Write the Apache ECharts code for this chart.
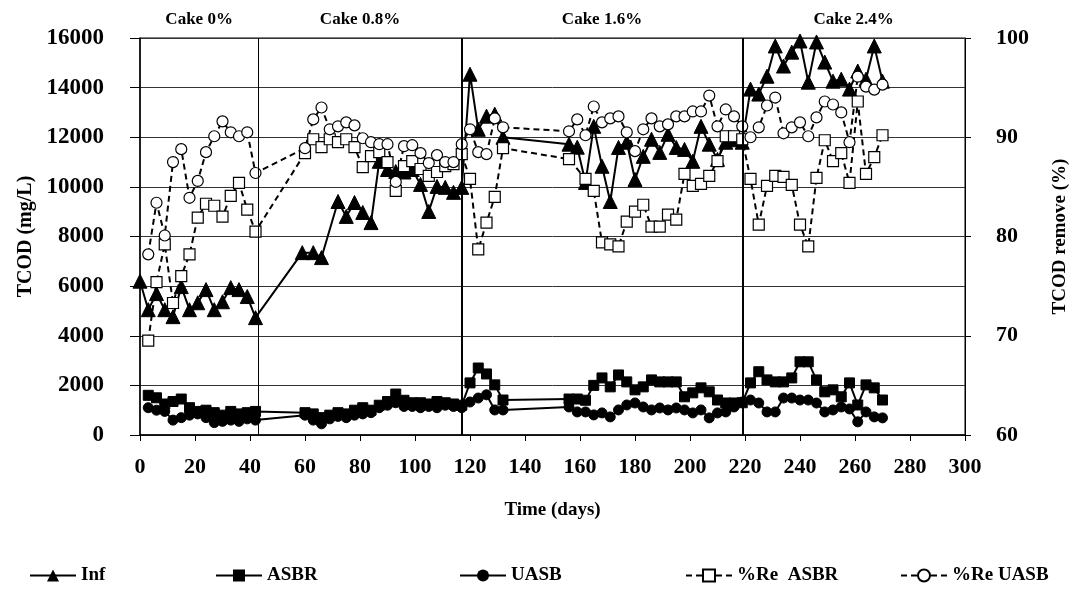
<!DOCTYPE html>
<html>
<head>
<meta charset="utf-8">
<script src="https://cdn.jsdelivr.net/npm/echarts@6/dist/echarts.min.js"></script>
<style>
html,body{margin:0;padding:0;background:#fff;}
#chart{width:1079px;height:613px;}
</style>
</head>
<body>
<div id="chart"></div>
<script>
// ---- data ----
const infDays = [0,3,6,9,12,15,18,21,24,27,30,33,36,39,42,
  59,63,66,72,75,78,81,84,87,90,93,96,99,102,105,108,111,114,117,
  120,123,126,129,132,156,159,162,165,168,171,174,177,180,183,186,189,192,195,198,201,204,207,210,213,216,219,
  222,225,228,231,234,237,240,243,246,249,252,255,258,261,264,267,270];
const infTCOD = [6200,5050,5700,5050,4770,5980,5050,5330,5860,5050,5370,5940,5860,5580,4730,
  7350,7350,7150,9410,8810,9370,8970,8560,11030,10700,10620,10600,10700,10100,9010,10020,9980,9780,9980,
  14540,12320,12850,12930,12000,11720,11600,10180,12440,10830,9410,11590,11800,10300,11230,11920,11390,12120,11590,11510,11030,12440,11720,11110,11800,11900,11800,
  13940,13740,14460,15680,14870,15430,15880,14220,15840,15030,14260,14340,13940,14670,14340,15680,14260];

const days = [3,6,9,12,15,18,21,24,27,30,33,36,39,42,
  60,63,66,69,72,75,78,81,84,87,90,93,96,99,102,105,108,111,114,117,
  120,123,126,129,132,156,159,162,165,168,171,174,177,180,183,186,189,192,195,198,201,204,207,210,213,216,219,
  222,225,228,231,234,237,240,243,246,249,252,255,258,261,264,267,270];
const asbrTCOD = [1600,1500,1250,1350,1450,1100,950,1000,900,800,950,850,900,950,
  900,850,700,800,900,850,1000,1100,1000,1200,1350,1650,1400,1300,1300,1250,1350,1300,1250,1200,
  2100,2700,2460,2020,1410,1450,1450,1400,2000,2300,1940,2420,2140,1820,1940,2220,2140,2140,2140,1540,1700,1900,1740,1410,1290,1290,1300,
  2100,2550,2220,2140,2140,2300,2950,2950,2220,1740,1820,1540,2100,1210,2020,1900,1410];
const uasbTCOD = [1100,1000,950,600,700,800,850,700,500,550,600,550,650,600,
  800,600,450,650,750,700,800,850,900,1100,1200,1300,1150,1150,1100,1150,1100,1200,1150,1100,
  1330,1490,1620,1010,1010,1130,930,930,810,890,730,1010,1210,1290,1130,1010,1090,1010,1090,1010,890,1010,690,890,930,1130,1330,
  1410,1290,930,930,1490,1490,1410,1410,1290,930,1010,1130,1050,530,930,730,690];
const asbrRemoval = [69.5,75.4,79.2,73.3,76.0,78.2,81.9,83.3,83.1,82.0,84.1,85.4,82.7,80.5,
  88.4,89.8,89.0,89.8,89.5,89.8,89.0,87.0,88.1,88.5,87.5,84.6,87.1,87.6,86.8,86.1,86.5,87.1,87.3,88.3,
  85.8,78.7,81.4,84.0,88.9,87.8,null,85.8,84.6,79.4,79.2,79.0,81.5,82.5,83.2,81.0,81.0,82.2,81.7,86.3,85.1,85.3,86.1,87.6,90.1,90.1,89.8,
  85.8,81.2,85.1,86.1,86.0,85.2,81.2,79.0,85.9,89.7,87.6,88.4,85.4,93.6,86.3,88.0,90.2];
const uasbRemoval = [78.2,83.4,80.1,87.5,88.8,83.9,85.6,88.5,90.1,91.6,90.5,90.1,90.5,86.4,
  88.9,91.8,93.0,90.8,91.1,91.5,91.2,89.9,89.5,89.3,89.3,85.5,89.1,89.2,88.4,87.4,88.2,87.5,87.5,89.3,
  90.8,88.5,88.3,91.9,91.0,90.6,91.8,90.2,93.1,91.5,91.9,92.1,90.5,88.6,90.8,91.9,91.1,91.3,92.1,92.1,92.6,92.6,94.2,91.1,92.8,92.1,91.1,
  90.0,91.0,93.2,94.0,90.4,91.0,91.5,90.1,92.0,93.6,93.3,92.5,89.5,96.1,95.1,94.8,95.3];

const phaseNames = ['Cake 0%','Cake 0.8%','Cake 1.6%','Cake 2.4%'];
const phaseBounds = [0,43,117,219,300];
const xTicks = {min:0,max:300,interval:20};
const yLeft = {min:0,max:16000,interval:2000};
const yRight = {min:60,max:100,interval:10};

function pairs(xs, ys){
  const out=[];
  for(let i=0;i<xs.length;i++){ if(ys[i]!==null) out.push([xs[i],ys[i]]); }
  return out;
}

const FONT = '"Liberation Serif", "Times New Roman", serif';
const txt = {fontFamily:FONT,fontWeight:'bold',color:'#000'};
const plain = v => String(v);

const chart = echarts.init(document.getElementById('chart'), null, {renderer:'canvas'});

const markAreaData = phaseNames.map((n,i)=>[{xAxis:phaseBounds[i],name:n},{xAxis:phaseBounds[i+1]}]);

const legendItems = [
  {name:'Inf', left:24},
  {name:'ASBR', left:210},
  {name:'UASB', left:454},
  {name:'%Re  ASBR', left:680},
  {name:'%Re UASB', left:895}
];

const option = {
  animation:false,
  backgroundColor:'#fff',
  grid:{left:140,right:114,top:38,bottom:178,show:true,borderColor:'#000',borderWidth:1,backgroundColor:'transparent'},
  legend: legendItems.map(l=>({
    data:[l.name], left:l.left, top:561, itemWidth:46, itemHeight:15, itemGap:5,
    textStyle:Object.assign({fontSize:19},txt)
  })),
  xAxis:{
    type:'value', min:xTicks.min, max:xTicks.max, interval:xTicks.interval,
    name:'Time (days)', nameLocation:'middle', nameGap:66,
    nameTextStyle:Object.assign({fontSize:19},txt),
    axisLine:{lineStyle:{color:'#000',width:1.5}},
    axisTick:{show:true,inside:false,length:6,lineStyle:{color:'#000'}},
    axisLabel:Object.assign({fontSize:22,margin:21,formatter:plain},txt),
    splitLine:{show:false}
  },
  yAxis:[{
    type:'value', min:yLeft.min, max:yLeft.max, interval:yLeft.interval, position:'left',
    name:'TCOD (mg/L)', nameLocation:'middle', nameGap:102, nameRotate:90,
    nameTextStyle:Object.assign({fontSize:20},txt),
    axisLine:{show:true,lineStyle:{color:'#000',width:1.5}},
    axisTick:{show:true,length:10,lineStyle:{color:'#000'}},
    axisLabel:Object.assign({fontSize:23,margin:36,formatter:plain},txt),
    splitLine:{show:true,lineStyle:{color:'#333',width:1}}
  },{
    type:'value', min:yRight.min, max:yRight.max, interval:yRight.interval, position:'right',
    name:'TCOD remove (%)', nameLocation:'middle', nameGap:86, nameRotate:90,
    nameTextStyle:Object.assign({fontSize:19},txt),
    axisLine:{show:true,lineStyle:{color:'#000',width:1}},
    axisTick:{show:true,length:6,lineStyle:{color:'#000'}},
    axisLabel:Object.assign({fontSize:22,margin:31,formatter:plain},txt),
    splitLine:{show:false}
  }],
  series:[
    {
      name:'Inf', type:'line', yAxisIndex:0, data:pairs(infDays,infTCOD),
      symbol:'triangle', symbolSize:14, showAllSymbol:true,
      lineStyle:{color:'#000',width:2}, itemStyle:{color:'#000',borderColor:'#000'},
      markLine:{silent:true,symbol:'none',label:{show:false},
        lineStyle:{color:'#000',type:'solid',width:1.5},
        data:[{xAxis:phaseBounds[1],lineStyle:{width:1}},{xAxis:phaseBounds[2],lineStyle:{width:2}},{xAxis:phaseBounds[3],lineStyle:{width:2}}]}
    },
    {
      name:'ASBR', type:'line', yAxisIndex:0, data:pairs(days,asbrTCOD),
      symbol:'rect', symbolSize:10, showAllSymbol:true,
      lineStyle:{color:'#000',width:2}, itemStyle:{color:'#000',borderColor:'#000'},
      markArea:{silent:true,itemStyle:{color:'rgba(0,0,0,0)'},
        label:Object.assign({show:true,position:'top',distance:10,fontSize:17},txt),
        data:markAreaData}
    },
    {
      name:'UASB', type:'line', yAxisIndex:0, data:pairs(days,uasbTCOD),
      symbol:'circle', symbolSize:10, showAllSymbol:true,
      lineStyle:{color:'#000',width:2}, itemStyle:{color:'#000',borderColor:'#000'}
    },
    {
      name:'%Re  ASBR', type:'line', yAxisIndex:1, data:pairs(days,asbrRemoval), connectNulls:true,
      symbol:'rect', symbolSize:11, showAllSymbol:true,
      lineStyle:{color:'#000',width:2,type:[6,4]}, itemStyle:{color:'#fff',borderColor:'#000',borderWidth:1.2}
    },
    {
      name:'%Re UASB', type:'line', yAxisIndex:1, data:pairs(days,uasbRemoval),
      symbol:'circle', symbolSize:11, showAllSymbol:true,
      lineStyle:{color:'#000',width:2,type:[6,4]}, itemStyle:{color:'#fff',borderColor:'#000',borderWidth:1.2}
    }
  ]
};
chart.setOption(option);
</script>
</body>
</html>
